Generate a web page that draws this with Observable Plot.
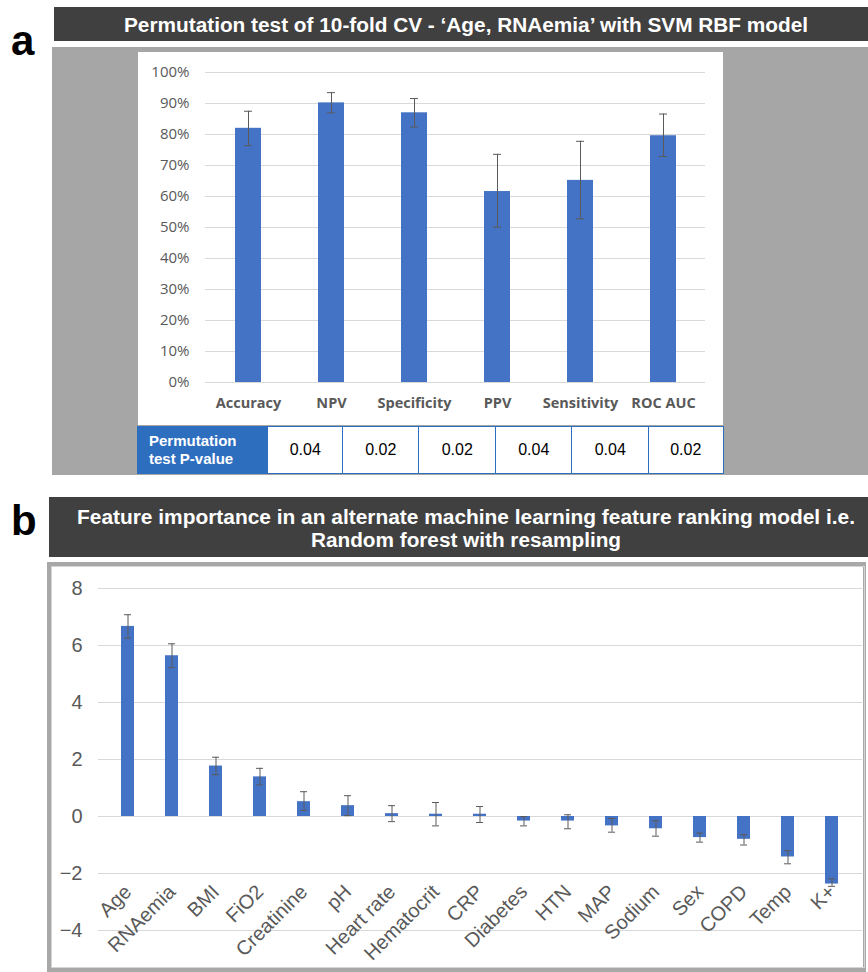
<!DOCTYPE html>
<html>
<head>
<meta charset="utf-8">
<script src="https://cdn.jsdelivr.net/npm/d3@7"></script>
<script src="https://cdn.jsdelivr.net/npm/@observablehq/plot@0.6"></script>
<style>
  html, body { margin: 0; padding: 0; background: #fff; }
  body { width: 868px; height: 972px; position: relative; overflow: hidden; font-family: "Liberation Sans", Arial, sans-serif; }
  .abs { position: absolute; }
  .cell { position: absolute; box-sizing: border-box; border: 1.5px solid #2e6ebf; background: #fff; color: #000;
          font: 16px "Liberation Sans", Arial, sans-serif; display: flex; align-items: center; justify-content: center; }
  .hdr { position: absolute; box-sizing: border-box; background: #2e6ebf; color: #fff;
         font: bold 15px "Liberation Sans", Arial, sans-serif; line-height: 18px; padding-left: 12px;
         display: flex; align-items: center; }
</style>
</head>
<body>
<div class="abs" style="left:54px;top:7px;width:814px;height:34px;background:#404040"></div>
<div class="abs" style="left:52px;top:47px;width:816px;height:428px;background:#a6a6a6"></div>
<div class="abs" style="left:138px;top:52px;width:585px;height:373px;background:#fff"></div>
<div id="chartA" class="abs" style="left:138px;top:52px;"></div>
<div id="tableA"></div>

<div class="abs" style="left:49px;top:497px;width:819px;height:60px;background:#404040"></div>
<div class="abs" style="left:47px;top:562px;width:819px;height:410px;box-sizing:border-box;border:4px solid #a8a8a8;border-right-width:3px;background:#fff"></div>
<div class="abs" style="left:51px;top:566px;width:814px;height:402px;box-sizing:border-box;border:1px solid #d4d4d4"></div>
<div id="chartB" class="abs" style="left:53px;top:568px;"></div>

<svg class="abs" style="left:0;top:0;pointer-events:none" width="868" height="972">
  <text x="11" y="55" font-family="Liberation Sans, Arial, sans-serif" font-weight="bold" font-size="42" fill="#000">a</text>
  <text x="11" y="535" font-family="Liberation Sans, Arial, sans-serif" font-weight="bold" font-size="42" fill="#000">b</text>
  <text x="124" y="32" textLength="684" lengthAdjust="spacingAndGlyphs" font-family="Liberation Sans, Arial, sans-serif" font-weight="bold" font-size="20" fill="#fff">Permutation test of 10-fold CV - ‘Age, RNAemia’ with SVM RBF model</text>
  <text x="77" y="524" textLength="778" lengthAdjust="spacingAndGlyphs" font-family="Liberation Sans, Arial, sans-serif" font-weight="bold" font-size="20" fill="#fff">Feature importance in an alternate machine learning feature ranking model i.e.</text>
  <text x="311" y="547" textLength="310" lengthAdjust="spacingAndGlyphs" font-family="Liberation Sans, Arial, sans-serif" font-weight="bold" font-size="20" fill="#fff">Random forest with resampling</text>
</svg>

<script>
// ---------- Panel a data ----------
const metrics = ["Accuracy", "NPV", "Specificity", "PPV", "Sensitivity", "ROC AUC"];
const metricMean = [82, 90.2, 87, 61.6, 65.2, 79.6];
const metricLow = [76.4, 87, 82.4, 50.1, 52.8, 72.9];
const metricHigh = [87.5, 93.5, 91.6, 73.6, 77.8, 86.6];
const pValues = ["0.04", "0.02", "0.02", "0.04", "0.04", "0.02"];
const pHeader = ["Permutation", "test P-value"];
const yTicksA = [0, 10, 20, 30, 40, 50, 60, 70, 80, 90, 100];

// ---------- Panel b data ----------
const features = ["Age", "RNAemia", "BMI", "FiO2", "Creatinine", "pH", "Heart rate", "Hematocrit", "CRP",
                  "Diabetes", "HTN", "MAP", "Sodium", "Sex", "COPD", "Temp", "K+"];
const importance = [6.67, 5.64, 1.77, 1.39, 0.52, 0.38, 0.10, 0.08, 0.08, -0.16, -0.16, -0.33, -0.43, -0.74, -0.80, -1.42, -2.37];
const errLow =     [6.26, 5.22, 1.47, 1.11, 0.21, 0.03, -0.18, -0.33, -0.21, -0.33, -0.43, -0.55, -0.69, -0.90, -1.00, -1.66, -2.45];
const errHigh =    [7.08, 6.06, 2.08, 1.69, 0.87, 0.73, 0.38, 0.49, 0.35, 0.00, 0.06, -0.07, -0.15, -0.58, -0.64, -1.20, -2.19];
const yTicksB = [-4, -2, 0, 2, 4, 6, 8];

const BLUE = "#4472c4";
const GRID = "#d9d9d9";
const TXT = "#595959";
const ERR = "#5a5a5a";

// ---------- Chart a ----------
const dataA = metrics.map((name, i) => ({name, mean: metricMean[i], lo: metricLow[i], hi: metricHigh[i]}));
const chartA = Plot.plot({
  width: 585, height: 373,
  marginTop: 20, marginBottom: 43, marginLeft: 67, marginRight: 18,
  style: {background: "transparent", fontFamily: '"Open Sans", sans-serif', color: TXT, overflow: "visible"},
  x: {domain: metrics, paddingInner: 0.69, paddingOuter: 0.345, label: null, axis: null},
  y: {domain: [0, 100], label: null, axis: null},
  marks: [
    Plot.gridY(yTicksA, {stroke: GRID, strokeOpacity: 1, strokeWidth: 1}),
    Plot.barY(dataA, {x: "name", y: "mean", fill: BLUE}),
    Plot.ruleX(dataA, {x: "name", y1: "lo", y2: "hi", stroke: ERR, strokeWidth: 1}),
    Plot.tickY(dataA, {x: "name", y: "lo", stroke: ERR, insetLeft: 9, insetRight: 9}),
    Plot.tickY(dataA, {x: "name", y: "hi", stroke: ERR, insetLeft: 9, insetRight: 9}),
    Plot.axisY(yTicksA, {tickSize: 0, tickPadding: 16, tickFormat: d => d + "%", fontSize: 15, fill: TXT}),
    Plot.axisX({tickSize: 0, tickPadding: 15, fontSize: 14.5, fontWeight: "bold", fill: TXT})
  ]
});
document.getElementById("chartA").appendChild(chartA);

// ---------- Table a ----------
const table = document.getElementById("tableA");
const hdr = document.createElement("div");
hdr.className = "hdr";
Object.assign(hdr.style, {left: "137px", top: "426px", width: "130px", height: "48px"});
hdr.innerHTML = pHeader.join("<br>");
table.appendChild(hdr);
const cellEdges = [267, 342, 418, 495, 571, 648, 722];
pValues.forEach((v, i) => {
  const c = document.createElement("div");
  c.className = "cell";
  Object.assign(c.style, {left: cellEdges[i] + "px", top: "426px", width: (cellEdges[i + 1] - cellEdges[i] + 1.5) + "px", height: "48px"});
  c.textContent = v;
  table.appendChild(c);
});

// ---------- Chart b ----------
const dataB = features.map((name, i) => ({name, v: importance[i], lo: errLow[i], hi: errHigh[i]}));
const chartB = Plot.plot({
  width: 815, height: 404,
  marginTop: 20, marginBottom: 42, marginLeft: 45, marginRight: 6,
  style: {background: "transparent", fontFamily: '"Liberation Sans", Arial, sans-serif', color: TXT, overflow: "visible"},
  x: {domain: features, paddingInner: 0.695, paddingOuter: 0.3475, label: null, axis: null},
  y: {domain: [-4, 8], label: null, axis: null},
  marks: [
    Plot.gridY(yTicksB, {stroke: GRID, strokeOpacity: 1, strokeWidth: 1}),
    Plot.barY(dataB, {x: "name", y: "v", fill: BLUE}),
    Plot.ruleX(dataB, {x: "name", y1: "lo", y2: "hi", stroke: ERR, strokeWidth: 1}),
    Plot.tickY(dataB, {x: "name", y: "lo", stroke: ERR, insetLeft: 3, insetRight: 3}),
    Plot.tickY(dataB, {x: "name", y: "hi", stroke: ERR, insetLeft: 3, insetRight: 3}),
    Plot.axisY(yTicksB, {tickSize: 0, tickPadding: 16, fontSize: 20, fill: TXT}),
    Plot.axisX({tickSize: 0, tickPadding: 0, tickRotate: -45, fontSize: 20, fill: TXT, dx: 0, dy: -42})
  ]
});
document.getElementById("chartB").appendChild(chartB);
</script>
</body>
</html>
